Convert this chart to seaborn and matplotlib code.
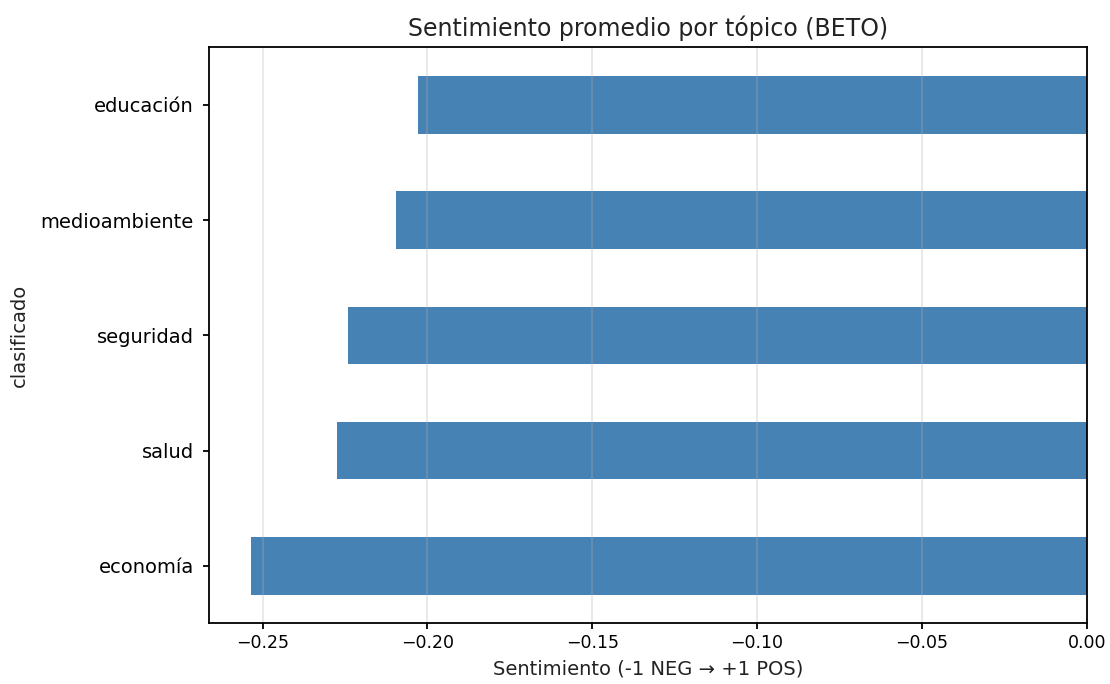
import numpy as np
import pandas as pd
import matplotlib
matplotlib.use("Agg")
import matplotlib.pyplot as plt
import seaborn as sns

topics = ["educacio\u0301n", "medioambiente", "seguridad", "salud", "economía"]
sentiment = [-0.2030, -0.2096, -0.2242, -0.2273, -0.2536]

df = pd.DataFrame({"clasificado": topics, "sentimiento": sentiment})

plt.rcParams["font.family"] = ["DejaVu Sans"]
plt.rcParams["font.size"] = 12.5
plt.rcParams["axes.linewidth"] = 1.3
plt.rcParams["xtick.major.width"] = 1.3
plt.rcParams["ytick.major.width"] = 1.3
plt.rcParams["xtick.major.size"] = 4.5
plt.rcParams["ytick.major.size"] = 4.5
plt.rcParams["ytick.major.pad"] = 6.5

fig = plt.figure(figsize=(11.1, 6.84), dpi=100)
ax = fig.add_axes([0.1883, 0.0887, 0.979 - 0.1883, 0.9308 - 0.0887])

sns.barplot(data=df, x="sentimiento", y="clasificado", orient="h",
            color="#4682b4", saturation=1, width=0.5, ax=ax)

ax.set_xlim(min(sentiment) * 1.05, 0)
ax.set_ylim(len(topics) - 0.5, -0.5)
ax.grid(axis="x", alpha=0.3, linewidth=1.3)
for lbl in ax.get_yticklabels():
    lbl.set_fontsize(14)
ax.set_title("Sentimiento promedio por tópico (BETO)", fontsize=17, pad=8, color="#222222")
ax.set_xlabel("Sentimiento (-1 NEG → +1 POS)", fontsize=14, labelpad=5, color="#222222")
ax.set_ylabel("clasificado", fontsize=14, labelpad=8, color="#222222")

fig.savefig("out.png", dpi=100)
